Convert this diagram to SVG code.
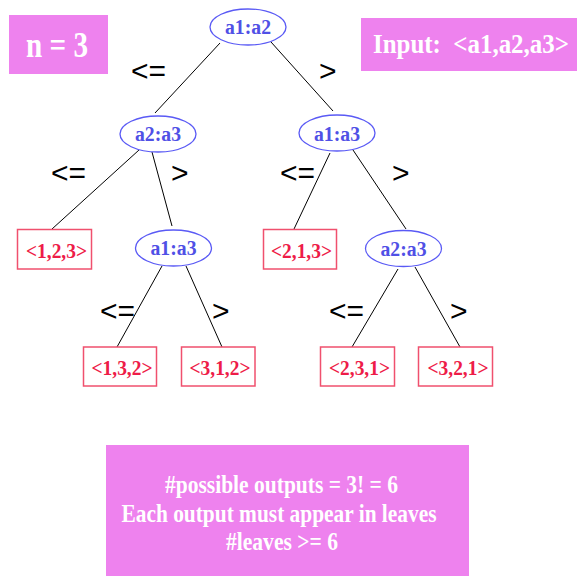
<svg xmlns="http://www.w3.org/2000/svg" width="577" height="576" viewBox="0 0 577 576">
  <style>
    .panel { fill: #EE82EE; }
    .panel-text { font-family: "Liberation Serif", "Times New Roman", serif; font-weight: bold; fill: #FFFFFF; }
    .cmp { fill: #FFFFFF; stroke: #5A5AF5; stroke-width: 1.3; }
    .cmp-text { font-family: "Liberation Serif", "Times New Roman", serif; font-weight: bold; font-size: 20px; fill: #5050E6; text-anchor: middle; }
    .leaf { fill: #FFFFFF; stroke: #F0506E; stroke-width: 1.5; }
    .leaf-text { font-family: "Liberation Serif", "Times New Roman", serif; font-weight: bold; font-size: 22px; fill: #EE1C48; text-anchor: middle; }
    .edge { stroke: #000000; stroke-width: 1; fill: none; }
    .op { font-family: "Liberation Sans", Arial, sans-serif; font-size: 30px; fill: #000000; }
  </style>

  <!-- info panels -->
  <g id="size-box">
    <rect class="panel" x="9" y="15" width="99" height="59"/>
    <text class="panel-text" x="26" y="56.5" font-size="36" textLength="62" lengthAdjust="spacingAndGlyphs">n = 3</text>
  </g>
  <g id="input-box">
    <rect class="panel" x="361" y="18" width="216" height="53"/>
    <text class="panel-text" transform="translate(373,53) scale(0.89,1)" x="0" y="0" font-size="28">Input:&#160; &lt;a1,a2,a3&gt;</text>
  </g>

  <!-- tree edges and branch labels -->
  <g id="connectors">
    <line class="edge" x1="220" y1="43" x2="155" y2="113"/>
    <line class="edge" x1="271" y1="42" x2="333" y2="111"/>
    <line class="edge" x1="139" y1="150" x2="52" y2="229"/>
    <line class="edge" x1="152" y1="152" x2="172" y2="226"/>
    <line class="edge" x1="330" y1="153" x2="294" y2="229"/>
    <line class="edge" x1="353" y1="150" x2="406" y2="229"/>
    <line class="edge" x1="162" y1="266" x2="117" y2="347"/>
    <line class="edge" x1="186" y1="266" x2="222" y2="347"/>
    <line class="edge" x1="398" y1="269" x2="352" y2="347"/>
    <line class="edge" x1="415" y1="267" x2="460" y2="347"/>

    <text class="op" x="131" y="80.5">&lt;=</text>
    <text class="op" x="319" y="80.5">&gt;</text>
    <text class="op" x="51" y="182.5">&lt;=</text>
    <text class="op" x="171" y="182.5">&gt;</text>
    <text class="op" x="280" y="182.5">&lt;=</text>
    <text class="op" x="392" y="182.5">&gt;</text>
    <text class="op" x="100" y="320.5">&lt;=</text>
    <text class="op" x="212" y="320.5">&gt;</text>
    <text class="op" x="329" y="320.5">&lt;=</text>
    <text class="op" x="450" y="320.5">&gt;</text>
  </g>

  <!-- comparison nodes -->
  <g id="cmp-a1-a2">
    <ellipse class="cmp" cx="248" cy="27" rx="38" ry="18"/>
    <text class="cmp-text" x="248" y="33.5" textLength="46" lengthAdjust="spacingAndGlyphs">a1:a2</text>
  </g>
  <g id="cmp-a2-a3-left">
    <ellipse class="cmp" cx="158" cy="134" rx="38" ry="18"/>
    <text class="cmp-text" x="158" y="141" textLength="46" lengthAdjust="spacingAndGlyphs">a2:a3</text>
  </g>
  <g id="cmp-a1-a3-right">
    <ellipse class="cmp" cx="337" cy="133" rx="38" ry="18"/>
    <text class="cmp-text" x="337" y="140.5" textLength="46" lengthAdjust="spacingAndGlyphs">a1:a3</text>
  </g>
  <g id="cmp-a1-a3-mid">
    <ellipse class="cmp" cx="173.5" cy="248" rx="38" ry="18"/>
    <text class="cmp-text" x="173.5" y="255" textLength="46" lengthAdjust="spacingAndGlyphs">a1:a3</text>
  </g>
  <g id="cmp-a2-a3-right">
    <ellipse class="cmp" cx="403.5" cy="248.5" rx="38" ry="18"/>
    <text class="cmp-text" x="403.5" y="255.5" textLength="46" lengthAdjust="spacingAndGlyphs">a2:a3</text>
  </g>

  <!-- leaves -->
  <g id="leaf-123">
    <rect class="leaf" x="17.5" y="229.5" width="74" height="39.5"/>
    <text class="leaf-text" x="56.5" y="258" textLength="61" lengthAdjust="spacingAndGlyphs">&lt;1,2,3&gt;</text>
  </g>
  <g id="leaf-213">
    <rect class="leaf" x="263.5" y="229.5" width="73" height="39.5"/>
    <text class="leaf-text" x="301.5" y="258" textLength="61" lengthAdjust="spacingAndGlyphs">&lt;2,1,3&gt;</text>
  </g>
  <g id="leaf-132">
    <rect class="leaf" x="83.5" y="347" width="73" height="39"/>
    <text class="leaf-text" x="122" y="375" textLength="61" lengthAdjust="spacingAndGlyphs">&lt;1,3,2&gt;</text>
  </g>
  <g id="leaf-312">
    <rect class="leaf" x="181.5" y="347" width="73.5" height="39"/>
    <text class="leaf-text" x="220" y="375" textLength="61" lengthAdjust="spacingAndGlyphs">&lt;3,1,2&gt;</text>
  </g>
  <g id="leaf-231">
    <rect class="leaf" x="320.5" y="347" width="74" height="39"/>
    <text class="leaf-text" x="359.5" y="375" textLength="61" lengthAdjust="spacingAndGlyphs">&lt;2,3,1&gt;</text>
  </g>
  <g id="leaf-321">
    <rect class="leaf" x="418.5" y="347" width="74" height="39"/>
    <text class="leaf-text" x="458" y="375" textLength="61" lengthAdjust="spacingAndGlyphs">&lt;3,2,1&gt;</text>
  </g>

  <!-- summary panel -->
  <g id="summary-box">
    <rect class="panel" x="106" y="445" width="363" height="131"/>
    <text class="panel-text" x="165" y="493" font-size="25" textLength="233" lengthAdjust="spacingAndGlyphs">#possible outputs = 3! = 6</text>
    <text class="panel-text" x="121.5" y="521.5" font-size="25" textLength="315" lengthAdjust="spacingAndGlyphs">Each output must appear in leaves</text>
    <text class="panel-text" x="226" y="550" font-size="25" textLength="112" lengthAdjust="spacingAndGlyphs">#leaves &gt;= 6</text>
  </g>
</svg>
